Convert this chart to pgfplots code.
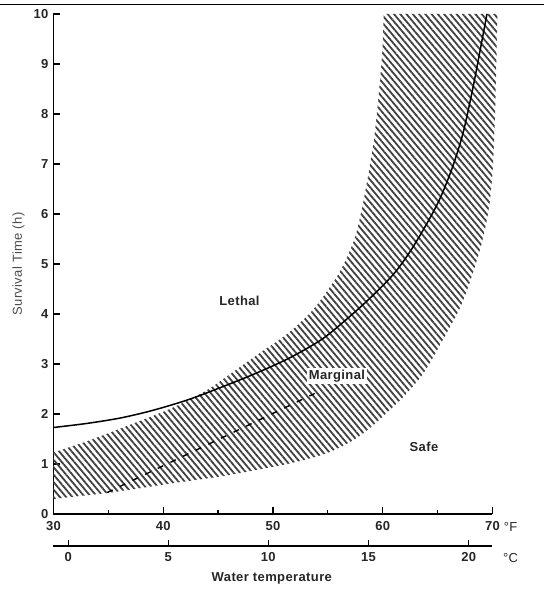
\documentclass[border=0pt]{standalone}
\usepackage{fontspec}
\setmainfont{Liberation Sans}[LetterSpace=3]
\usepackage{pgfplots}
\pgfplotsset{compat=1.18}
\usepgfplotslibrary{fillbetween}
\usetikzlibrary{patterns.meta}
\definecolor{txt}{gray}{0.15}
\newcommand{\fs}{\fontsize{13}{15}\selectfont}
\begin{document}
\begin{tikzpicture}[font=\fs]
\draw[line width=0.9pt] (-53pt,510pt) -- (491pt,510pt);
\begin{axis}[
  at={(0pt,0pt)}, anchor=south west,
  scale only axis, width=439pt, height=500pt,
  xmin=30, xmax=70, ymin=0, ymax=10,
  axis lines=left, axis line style={-, line width=1.6pt},
  clip=false,
  tick align=inside,
  xtick={30,40,50,60,70}, minor xtick={35,45,55,65},
  ytick={0,1,...,10},
  major tick length=7pt, minor tick length=4pt,
  every tick/.style={black, line width=1.3pt},
  /pgf/number format/assume math mode=true,
  ticklabel style={font=\fs\bfseries, text=txt},
  yticklabel style={xshift=-1.5pt},
  xticklabel style={yshift=-4pt},
  ylabel={Survival Time (h)},
  ylabel style={at={(axis description cs:-0.0797,0.5)}, anchor=center, text=black!70, font=\fs},
]
\addplot[draw=none, smooth, name path=up] coordinates {
 (30,1.23) (33,1.45) (36.1,1.71) (40.7,2.11) (44,2.48) (46.1,2.8) (49.2,3.28) (50.7,3.5) (52.2,3.77) (53.9,4.15) (56.0,4.81) (57.4,5.48) (58.1,6.1) (58.7,6.8) (59.2,7.48) (59.6,8.3) (59.95,9.2) (60.1,10)};
\addplot[draw=none, smooth, name path=lo] coordinates {
 (30,0.3) (32,0.35) (34.9,0.42) (38,0.52) (41,0.62) (45.2,0.75) (48,0.86) (51.3,1.0) (54,1.15) (55.5,1.27) (57.5,1.5) (59,1.75) (60.5,2.05) (62,2.37) (63.7,2.81) (65.4,3.45) (67.1,4.15) (68.2,4.81) (69.1,5.48) (69.7,6.15) (70.0,6.81) (70.15,7.48) (70.3,8.5) (70.45,10)};
\addplot[draw=none, pattern={Lines[angle=-50, distance=4.8pt, line width=1.8pt]}, pattern color=black!75] fill between[of=up and lo];
\addplot[black, line width=1.5pt, smooth] coordinates {
 (30,1.73) (33,1.81) (36.1,1.92) (39,2.07) (42.2,2.28) (45,2.51) (48.3,2.8) (51.5,3.12) (54.5,3.5) (57,3.95) (59,4.35) (61,4.8) (62.5,5.25) (64,5.8) (65.2,6.3) (66.3,6.9) (67.3,7.6) (68.2,8.5) (68.9,9.3) (69.5,10)};
\addplot[black, line width=1.4pt, dash pattern=on 6pt off 8pt] coordinates {(34.9,0.43) (53.8,2.41)};
\node[font=\fs\bfseries, text=txt] at (axis cs:46.95,4.27) {Lethal};
\node[font=\fs\bfseries, text=txt, fill=white, inner sep=2pt] at (axis cs:55.83,2.76) {Marginal};
\node[font=\fs\bfseries, text=txt] at (axis cs:63.76,1.35) {Safe};
\node[text=txt] at (axis cs:71.65,0) [yshift=-13pt] {°F};
\node[text=txt] at (axis cs:71.65,0) [yshift=-44pt] {°C};
\node[font=\fs\bfseries, text=txt] at (axis cs:49.9,0) [yshift=-64pt] {Water temperature};
\end{axis}
\begin{axis}[
  at={(0pt,-32pt)}, anchor=south west,
  scale only axis, width=439pt, height=10pt,
  xmin=30, xmax=70, ymin=0, ymax=1,
  axis x line=bottom, axis y line=none,
  axis line style={-, line width=1.6pt},
  tick align=inside,
  xtick={31.34,40.46,49.57,58.7,67.84},
  xticklabels={0,5,10,15,20},
  major tick length=6pt,
  every tick/.style={black, line width=1.3pt},
  ticklabel style={font=\fs\bfseries, text=txt},
  xticklabel style={yshift=-3pt},
]
\addplot[draw=none] coordinates {(30,0) (70,1)};
\end{axis}
\path (-53pt,-76pt) rectangle (491pt,514pt);
\end{tikzpicture}
\end{document}
